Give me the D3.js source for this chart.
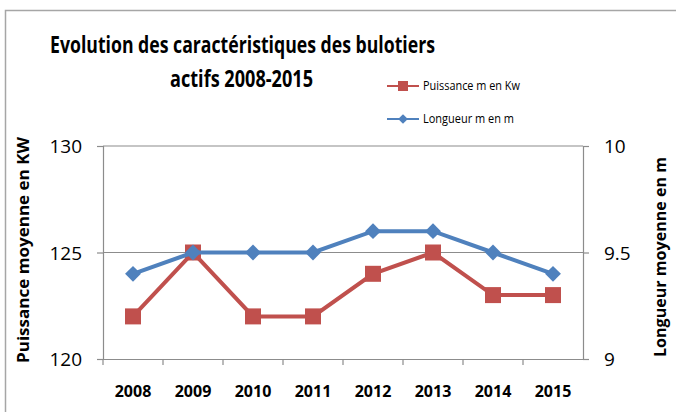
<!DOCTYPE html>
<html>
<head>
<meta charset="utf-8">
<script src="https://cdn.jsdelivr.net/npm/d3@7"></script>
<style>
  body { margin: 0; background: #fff; }
  svg text { font-family: "Open Sans", sans-serif; }
</style>
</head>
<body>
<div id="chart"></div>
<script>
// data
var years = ["2008", "2009", "2010", "2011", "2012", "2013", "2014", "2015"];
var puissance = [122, 125, 122, 122, 124, 125, 123, 123];
var longueur = [9.4, 9.5, 9.5, 9.5, 9.6, 9.6, 9.5, 9.4];
var leftTicks = [120, 125, 130];
var rightTicks = [9, 9.5, 10];

var width = 676, height = 412;
var margin = {left: 103, right: 93, top: 146, bottom: 53};

var svg = d3.select("#chart").append("svg")
    .attr("width", width)
    .attr("height", height);

// outer frame
svg.append("rect")
    .attr("x", 5.5).attr("y", 10.5)
    .attr("width", 700).attr("height", 420)
    .attr("fill", "none")
    .attr("stroke", "#a6a6a6")
    .attr("stroke-width", 1.5);

var x = d3.scaleBand()
    .domain(years)
    .range([margin.left, width - margin.right]);

var yL = d3.scaleLinear().domain([120, 130]).range([height - margin.bottom, margin.top]);
var yR = d3.scaleLinear().domain([9, 10]).range([height - margin.bottom, margin.top]);

// gridlines
svg.append("g")
    .selectAll("line")
    .data(leftTicks.slice(1))
    .enter()
    .append("line")
    .attr("x1", margin.left).attr("x2", width - margin.right)
    .attr("y1", function(d) { return yL(d); })
    .attr("y2", function(d) { return yL(d); })
    .attr("stroke", "#8c8c8c")
    .attr("stroke-width", 1.2);

// axes
var axisColor = "#8c8c8c";
var gl = svg.append("g")
    .attr("transform", "translate(" + margin.left + ",0)")
    .call(d3.axisLeft(yL).tickValues(leftTicks).tickSize(6).tickPadding(15));
var gr = svg.append("g")
    .attr("transform", "translate(" + (width - margin.right) + ",0)")
    .call(d3.axisRight(yR).tickValues(rightTicks).tickSize(6).tickPadding(15)
      .tickFormat(function(d) { return d === 9.5 ? "9.5" : d; }));
var gx = svg.append("g")
    .attr("transform", "translate(0," + (height - margin.bottom) + ")")
    .call(d3.axisBottom(x).tickSize(0).tickPadding(27));

// x tick marks at band boundaries
svg.append("g")
    .selectAll("line")
    .data(years)
    .enter()
    .append("line")
    .attr("x1", function(d) { return x(d); })
    .attr("x2", function(d) { return x(d); })
    .attr("y1", height - margin.bottom)
    .attr("y2", height - margin.bottom + 6)
    .attr("stroke", axisColor)
    .attr("stroke-width", 1.2);

[gl, gr, gx].forEach(function(g) {
  g.select(".domain").attr("stroke", axisColor).attr("stroke-width", 1.2);
  g.selectAll(".tick line").attr("stroke", axisColor).attr("stroke-width", 1.2);
});
gl.selectAll("text").attr("font-size", 19).attr("fill", "#000").attr("dy", "0.35em");
gr.selectAll("text").attr("font-size", 19).attr("fill", "#000").attr("dy", "0.35em");
gx.selectAll("text").attr("font-size", 16).attr("font-weight", "bold").attr("fill", "#000");

// lines
var red = "#C0504D", blue = "#4F81BD";
var cx = function(i) { return x(years[i]) + x.bandwidth() / 2; };

var lineP = d3.line()
    .x(function(d, i) { return cx(i); })
    .y(function(d) { return yL(d); });
var lineL = d3.line()
    .x(function(d, i) { return cx(i); })
    .y(function(d) { return yR(d); });

svg.append("path")
    .datum(puissance)
    .attr("d", lineP)
    .attr("fill", "none")
    .attr("stroke", red)
    .attr("stroke-width", 4);

svg.append("g")
    .selectAll("rect")
    .data(puissance)
    .enter()
    .append("rect")
    .attr("x", function(d, i) { return cx(i) - 8; })
    .attr("y", function(d) { return yL(d) - 8; })
    .attr("width", 16).attr("height", 16)
    .attr("fill", red);

svg.append("path")
    .datum(longueur)
    .attr("d", lineL)
    .attr("fill", "none")
    .attr("stroke", blue)
    .attr("stroke-width", 4);

var diamond = d3.symbol().type(d3.symbolDiamond2).size(160);
svg.append("g")
    .selectAll("path")
    .data(longueur)
    .enter()
    .append("path")
    .attr("d", diamond)
    .attr("transform", function(d, i) { return "translate(" + cx(i) + "," + yR(d) + ")"; })
    .attr("fill", blue);

// title
var title = svg.append("g")
    .attr("font-size", 23)
    .attr("font-weight", "bold")
    .attr("fill", "#000");
title.append("text").attr("x", 50).attr("y", 53)
    .attr("textLength", 385).attr("lengthAdjust", "spacingAndGlyphs")
    .text("Evolution des caractéristiques des bulotiers");
title.append("text").attr("x", 170).attr("y", 87)
    .attr("textLength", 143).attr("lengthAdjust", "spacingAndGlyphs")
    .text("actifs 2008-2015");

// axis titles
svg.append("text")
    .attr("transform", "translate(29,250) rotate(-90)")
    .attr("text-anchor", "middle")
    .attr("font-size", 16)
    .attr("font-weight", "bold")
    .attr("textLength", 226).attr("lengthAdjust", "spacingAndGlyphs")
    .text("Puissance moyenne  en KW");

svg.append("text")
    .attr("transform", "translate(666,257) rotate(-90)")
    .attr("text-anchor", "middle")
    .attr("font-size", 16)
    .attr("font-weight", "bold")
    .attr("textLength", 200).attr("lengthAdjust", "spacingAndGlyphs")
    .text("Longueur moyenne en m");

// legend
var legend = [
  {name: "Puissance m en Kw", color: red, shape: "square", y: 86, len: 97},
  {name: "Longueur m en m", color: blue, shape: "diamond", y: 119, len: 91}
];
var lg = svg.append("g");
legend.forEach(function(l) {
  lg.append("line")
    .attr("x1", 387).attr("x2", 419)
    .attr("y1", l.y).attr("y2", l.y)
    .attr("stroke", l.color).attr("stroke-width", 2);
  if (l.shape == "square") {
    lg.append("rect")
      .attr("x", 398).attr("y", l.y - 5)
      .attr("width", 10).attr("height", 10)
      .attr("fill", l.color);
  } else {
    lg.append("path")
      .attr("d", d3.symbol().type(d3.symbolDiamond2).size(60))
      .attr("transform", "translate(403," + l.y + ")")
      .attr("fill", l.color);
  }
  lg.append("text")
    .attr("x", 423).attr("y", l.y)
    .attr("dy", "0.35em")
    .attr("font-size", 12.5)
    .attr("textLength", l.len).attr("lengthAdjust", "spacingAndGlyphs")
    .text(l.name);
});
</script>
</body>
</html>
